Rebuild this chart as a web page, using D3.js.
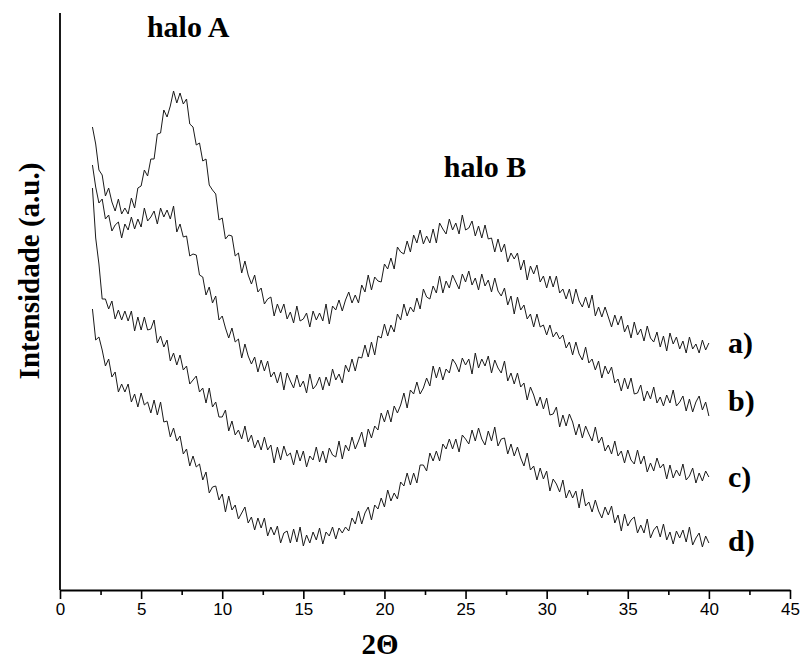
<!DOCTYPE html>
<html>
<head>
<meta charset="utf-8">
<script src="https://cdn.jsdelivr.net/npm/d3@7/dist/d3.min.js"></script>
<style>
  html, body { margin: 0; padding: 0; background: #fff; }
  svg { display: block; }
</style>
</head>
<body>
<svg id="chart" width="804" height="666"></svg>
<script>
// 2-theta sampling grid (degrees)
const twoThetaStart = 2.0;
const twoThetaStep = 0.2;

// Intensity (a.u.), one value per 0.2 degree from 2 to 40
const seriesA = [473,456,430,425,404,412,398,389,401,386,392,386,402,392,412,414,430,424,441,441,
466,467,490,483,494,509,497,507,496,501,476,473,455,457,439,441,415,410,406,380,
382,361,365,364,344,347,327,339,325,316,325,308,312,296,301,303,284,296,287,296,
281,288,277,294,279,281,287,273,289,280,287,279,296,276,294,290,300,289,300,308,
297,305,297,315,308,325,310,323,319,318,336,331,342,331,353,348,346,359,348,365,
357,370,356,364,357,371,357,377,371,366,381,370,377,366,385,370,372,379,364,374,
362,375,361,362,348,361,348,356,338,347,341,347,330,340,320,334,326,335,318,324,
312,324,313,324,307,311,301,311,296,311,299,293,303,292,305,284,293,283,293,283,
273,285,275,284,268,275,262,278,265,271,259,274,262,258,268,253,264,249,267,256,
263,251,259,247,263,251,256,247,260,250,257];

const seriesB = [435,413,397,401,381,385,369,375,378,362,376,370,383,371,381,373,392,379,383,389,
376,392,383,390,381,394,368,376,363,364,344,346,345,325,323,305,313,297,304,280,
284,272,262,272,258,261,242,256,244,236,243,228,240,229,239,223,228,217,228,210,
227,219,212,225,213,219,207,226,211,215,223,210,223,214,231,220,226,217,235,228,
241,229,243,242,255,243,258,245,264,262,276,264,275,268,286,280,296,284,293,288,
302,291,311,303,301,314,307,324,307,319,312,325,318,311,326,318,329,315,322,310,
326,314,320,308,322,309,304,312,295,304,286,303,290,295,281,286,273,286,273,275,
265,275,263,268,261,265,252,258,245,258,246,240,253,237,241,230,239,222,234,226,
233,217,221,209,222,211,222,206,207,215,199,209,201,213,197,203,194,205,197,210,
194,198,204,189,201,188,198,204,190,198,184];

const seriesC = [412,362,336,301,301,291,299,281,290,280,289,279,289,269,283,270,283,270,271,280,
257,264,253,260,239,247,235,245,230,234,216,220,224,208,212,197,212,193,198,183,
183,190,169,179,165,170,161,174,158,165,152,160,150,163,150,155,137,153,140,154,
144,147,135,150,139,149,133,144,140,153,138,149,137,152,145,143,159,141,155,149,
163,151,159,168,153,171,162,174,170,187,178,190,178,194,187,195,207,192,210,206,
218,206,212,222,214,234,222,233,220,231,227,241,236,228,242,235,241,226,247,232,
241,234,244,227,240,232,227,239,219,227,216,227,213,217,200,213,205,194,203,191,
202,185,186,193,173,185,174,186,178,165,176,162,174,166,159,173,157,163,149,155,
146,159,144,149,137,150,140,136,150,136,144,128,137,129,142,132,136,121,135,122,
130,124,136,120,124,132,117,127,119,129,123];

const seriesD = [291,260,263,250,234,241,223,228,208,216,208,216,198,206,193,207,195,198,187,200,
185,198,178,179,163,172,159,164,146,151,134,144,133,136,120,128,107,113,114,100,
106,88,104,90,95,81,87,93,77,83,70,82,72,82,64,73,65,74,57,67,
69,57,71,58,73,54,65,57,68,60,72,56,68,64,73,61,72,67,73,69,
82,76,89,76,87,93,80,95,91,102,93,110,99,107,101,118,114,127,115,127,
117,135,135,129,147,139,149,139,156,151,161,151,161,148,165,161,156,170,159,172,
161,155,169,159,173,154,161,162,146,156,144,153,142,134,147,130,134,120,132,121,
129,109,121,116,108,120,102,110,102,109,92,111,94,98,88,100,89,82,93,85,
94,77,85,69,86,74,80,83,67,75,67,81,62,70,74,63,76,60,68,56,
69,62,70,58,73,55,62,67,53,64,57];

const seriesList = [seriesA, seriesB, seriesC, seriesD];
const seriesLabels = ["a)", "b)", "c)", "d)"];
const xTickValues = [0, 5, 10, 15, 20, 25, 30, 35, 40, 45];
const xMinorTicks = [2.5, 7.5, 12.5, 17.5, 22.5, 27.5, 32.5, 37.5, 42.5];
const haloLabels = [{ text: "halo A", at: 7.9 }, { text: "halo B", at: 26.2 }];

const svg = d3.select("#chart");
const x = d3.scaleLinear().domain([0, 45]).range([60, 790]);
const y = d3.scaleLinear().domain([10, 587]).range([590, 13]);

const serif = "'Liberation Serif', 'Times New Roman', serif";
const sans = "'Liberation Sans', Arial, sans-serif";

// curves
const line = d3.line()
  .x((d, i) => x(twoThetaStart + i * twoThetaStep))
  .y(d => y(d));

svg.append("g").selectAll("path")
  .data(seriesList)
  .join("path")
  .attr("d", d => line(d))
  .attr("fill", "none")
  .attr("stroke", "#1a1a1a")
  .attr("stroke-width", 1)
  .attr("stroke-linejoin", "round");

// x axis
const xAxis = svg.append("g")
  .attr("transform", "translate(0,590)")
  .call(d3.axisBottom(x).tickValues(xTickValues).tickFormat(d3.format("d")).tickSize(9).tickPadding(4).tickSizeOuter(0));
xAxis.select(".domain").attr("stroke", "#000").attr("stroke-width", 1.8);
xAxis.selectAll(".tick line").attr("stroke", "#000").attr("stroke-width", 1.6);
xAxis.selectAll(".tick text").attr("font-family", sans).attr("font-size", 17).attr("fill", "#000");

svg.append("g").attr("transform", "translate(0,590)")
  .call(d3.axisBottom(x).tickValues(xMinorTicks).tickSize(5).tickFormat("").tickSizeOuter(0))
  .call(g => g.select(".domain").remove())
  .selectAll(".tick line").attr("stroke", "#000").attr("stroke-width", 1.6);

// y axis (no ticks)
svg.append("line")
  .attr("x1", x(0)).attr("x2", x(0))
  .attr("y1", y(587)).attr("y2", y(10))
  .attr("stroke", "#000").attr("stroke-width", 1.8);

// axis titles
svg.append("text")
  .attr("x", 380).attr("y", 654)
  .attr("text-anchor", "middle")
  .attr("font-family", serif).attr("font-weight", "bold").attr("font-size", 29)
  .text("2Θ");

svg.append("text")
  .attr("transform", "translate(39,271) rotate(-90)")
  .attr("text-anchor", "middle")
  .attr("font-family", serif).attr("font-weight", "bold").attr("font-size", 29)
  .text("Intensidade (a.u.)");

// halo labels
const haloY = [37, 177];
svg.append("g").selectAll("text")
  .data(haloLabels)
  .join("text")
  .attr("x", d => x(d.at))
  .attr("y", (d, i) => haloY[i])
  .attr("text-anchor", "middle")
  .attr("font-family", serif).attr("font-weight", "bold").attr("font-size", 30)
  .text(d => d.text);

// series labels
const labelY = [353, 411, 487, 551];
svg.append("g").selectAll("text")
  .data(seriesLabels)
  .join("text")
  .attr("x", 728)
  .attr("y", (d, i) => labelY[i])
  .attr("font-family", serif).attr("font-weight", "bold").attr("font-size", 30)
  .text(d => d);
</script>
</body>
</html>
